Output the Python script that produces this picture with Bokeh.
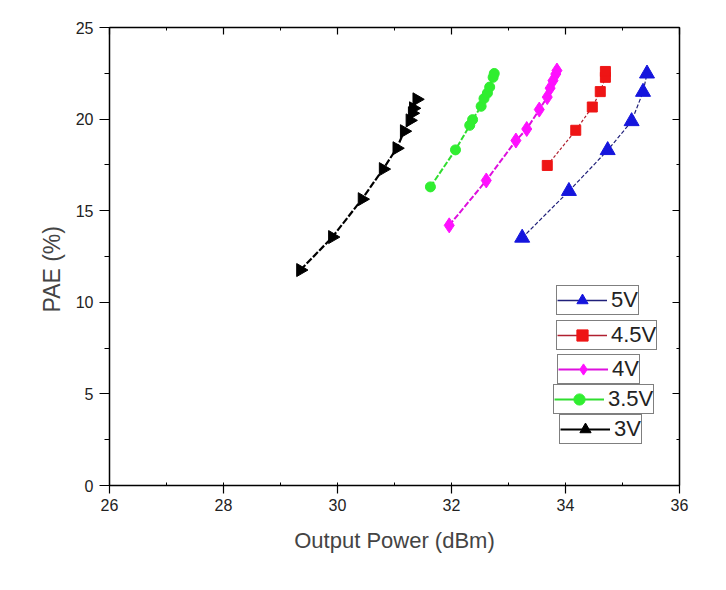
import numpy as np
from bokeh.plotting import figure
from bokeh.models import (Range1d, LinearAxis, SingleIntervalTicker, Legend, LegendItem,
                          ColumnDataSource, CustomJSTickFormatter, Title)
from bokeh.embed import file_html
from bokeh.resources import INLINE

# ---- data ----
x_3v = [29.35, 29.91, 30.43, 30.80, 31.04, 31.17, 31.27, 31.31, 31.33, 31.39]
y_3v = [11.76, 13.56, 15.63, 17.27, 18.41, 19.34, 19.93, 20.32, 20.59, 21.08]

x_35v = [31.63, 32.07, 32.32, 32.37, 32.52, 32.57, 32.63, 32.67, 32.73, 32.75]
y_35v = [16.30, 18.32, 19.66, 19.97, 20.70, 21.12, 21.42, 21.75, 22.28, 22.49]

x_4v = [31.96, 32.61, 33.13, 33.32, 33.54, 33.68, 33.73, 33.78, 33.83, 33.85]
y_4v = [14.20, 16.65, 18.83, 19.46, 20.52, 21.20, 21.69, 22.10, 22.46, 22.65]

x_45v = [33.68, 34.18, 34.47, 34.61, 34.70, 34.70]
y_45v = [17.47, 19.39, 20.66, 21.50, 22.28, 22.60]

x_5v = [33.24, 34.06, 34.74, 35.16, 35.36, 35.43]
y_5v = [13.52, 16.07, 18.30, 19.88, 21.48, 22.48]

series_labels = ["5V", "4.5V", "4V", "3.5V", "3V"]
x_title = "Output Power (dBm)"
y_title = "PAE (%)"
x_ticks_step = 2
y_ticks_step = 5

FONT = "Liberation Sans"

p = figure(width=710, height=574, output_backend="svg", toolbar_location=None,
           x_range=Range1d(26, 36), y_range=Range1d(0, 25),
           x_axis_type=None, y_axis_type=None,
           min_border_left=109, min_border_right=31, min_border_top=27, min_border_bottom=89)
p.outline_line_color = None
p.xgrid.visible = False
p.ygrid.visible = False
p.background_fill_color = "white"
p.border_fill_color = "white"

blank = CustomJSTickFormatter(code="return ''")

def make_axis(kind, labels, tick_out, tick_in, minor_out, minor_in):
    step = x_ticks_step if kind == "x" else y_ticks_step
    ax = LinearAxis(ticker=SingleIntervalTicker(interval=step, num_minor_ticks=2))
    ax.axis_line_color = "black"
    ax.axis_line_width = 1.5
    ax.major_tick_line_color = "black"
    ax.minor_tick_line_color = "black"
    ax.major_tick_line_width = 1.2
    ax.minor_tick_line_width = 1
    ax.major_tick_out = tick_out
    ax.major_tick_in = tick_in
    ax.minor_tick_out = minor_out
    ax.minor_tick_in = minor_in
    ax.major_label_text_font = FONT
    ax.major_label_text_font_size = "16px"
    ax.major_label_text_color = "#222222"
    ax.axis_label_text_font = FONT
    ax.axis_label_text_font_size = "22px"
    ax.axis_label_text_font_style = "normal"
    ax.axis_label_text_color = "#444444"
    if not labels:
        ax.formatter = blank
        ax.major_label_standoff = 0
    return ax

xb = make_axis("x", True, 8, 0, 0, 3)
xb.axis_label = x_title
xb.axis_label_standoff = 14
xb.major_label_standoff = 5
p.add_layout(xb, "below")

yl = make_axis("y", True, 10, 0, 5, 0)
yl.major_label_standoff = 6
p.add_layout(yl, "left")

xt = make_axis("x", False, 0, 7, 0, 3)
p.add_layout(xt, "above")
yr = make_axis("y", False, 0, 7, 0, 3)
p.add_layout(yr, "right")

# y-axis title: sits a little below the frame centre, as in the reference
ytitle = Title(text=y_title, align="left", offset=173, standoff=16,
               text_font=FONT, text_font_size="23px", text_font_style="normal",
               text_color="#444444")
p.add_layout(ytitle, "left")

specs = [
    # label, xs, ys, line color, line width, dash, marker, marker color, size, angle
    ("5V", x_5v, y_5v, "#20207a", 1.2, "4 2", "triangle", "#1515dd", 15, 0.0),
    ("4.5V", x_45v, y_45v, "#b02030", 1.2, "3 2", "square", "#ee1515", 10, 0.0),
    ("4V", x_4v, y_4v, "#dd10dd", 2, "6 2", "diamond", "#ff10ff", 15, 0.0),
    ("3.5V", x_35v, y_35v, "#30dd30", 2, "6 2", "circle", "#30ee30", 10, 0.0),
    ("3V", x_3v, y_3v, "#000000", 2.2, "7 2", "triangle", "#000000", 13, -np.pi / 2),
]

legend_locs = {"5V": (447, 170), "4.5V": (447, 135), "4V": (448, 101),
               "3.5V": (444, 71), "3V": (450, 41)}

for lab, xs, ys, lc, lw, dash, mk, mc, sz, ang in specs:
    src = ColumnDataSource(dict(x=xs, y=ys))
    p.line("x", "y", source=src, line_color=lc, line_width=lw, line_dash=dash)
    sc = p.scatter("x", "y", source=src, marker=mk, size=sz, angle=ang,
                   fill_color=mc, line_color=mc)
    # solid line used only for the legend swatch (lies outside the visible ranges)
    off = ColumnDataSource(dict(x=[0, 1], y=[-50, -50]))
    ln = p.line("x", "y", source=off, line_color=lc, line_width=max(lw, 1.5))
    lg = Legend(items=[LegendItem(label=lab, renderers=[ln, sc])],
                location=legend_locs[lab])
    lg.label_text_font = FONT
    lg.label_text_font_size = "22px"
    lg.label_text_color = "#222222"
    lg.border_line_color = "black"
    lg.border_line_width = 1.5
    lg.background_fill_color = "white"
    lg.background_fill_alpha = 1
    lg.padding = 0
    lg.margin = 0
    lg.glyph_width = 50
    lg.glyph_height = 28
    lg.label_standoff = 4
    lg.label_height = 20
    lg.spacing = 0
    p.add_layout(lg, "center")

open("out.html", "w").write(file_html(p, INLINE))
